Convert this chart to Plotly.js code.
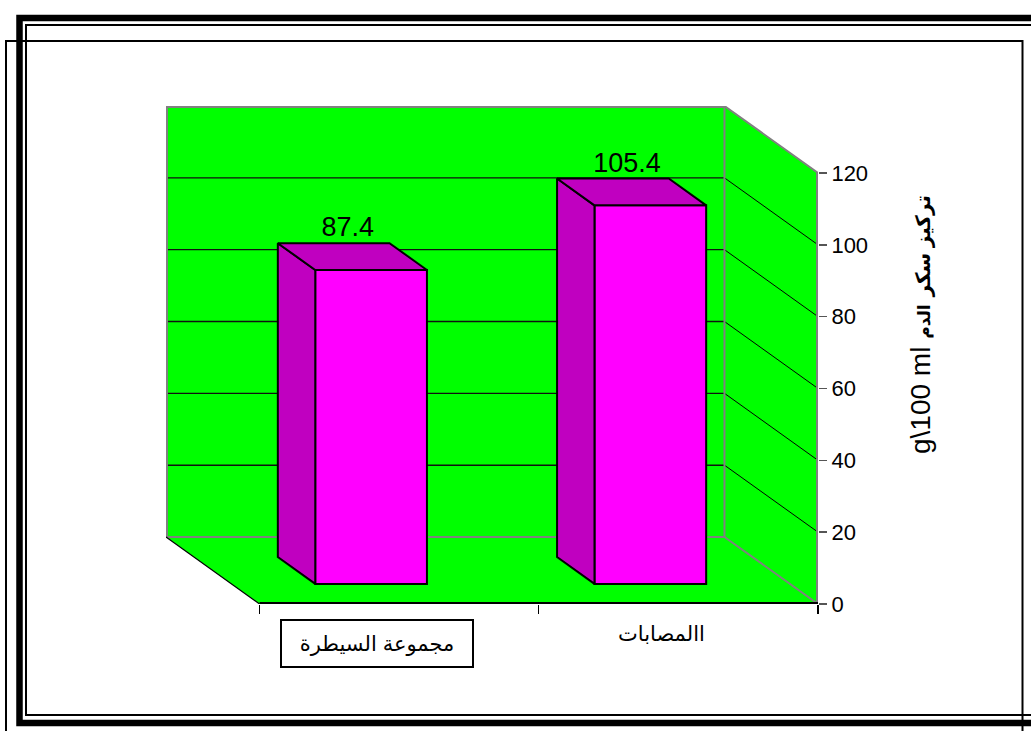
<!DOCTYPE html>
<html>
<head>
<meta charset="utf-8">
<script src="https://cdn.plot.ly/plotly-3.0.1.min.js"></script>
<style>
html, body { margin: 0; padding: 0; background: #ffffff; }
#chart { width: 1031px; height: 731px; }
</style>
</head>
<body>
<div id="chart"></div>
<script>
// ---- data ----
const categories = ['مجموعة السيطرة', 'االمصابات'];
const values = [87.4, 105.4];
const valueLabels = ['87.4', '105.4'];
const yTicks = [0, 20, 40, 60, 80, 100, 120];
const yTitleUnit = 'g\\100 ml';
const yTitleMain = 'تركيز سكر';
const yTitleSmall = 'الدم';

// ---- geometry / style ----
const W = 1031, H = 731;
const M = { l: 166, r: 213, t: 106, b: 127 };
const plotW = W - M.l - M.r, plotH = H - M.t - M.b;
const YMAX = 120;
const DX = -0.335;   // oblique depth shift (x units)
const DY = 18.65;    // oblique depth shift (y units)
const BW = 0.2;      // half bar width
const T0 = 0.3, T1 = 0.7; // bar depth span
const xL = -0.5, xR = categories.length - 0.5;
const FONT = 'Arial, "Liberation Sans", "DejaVu Sans", sans-serif';
const GREEN = '#00FF00', GRAY = '#808080';

const pxX = px => (px - M.l) / plotW;
const pxY = py => (H - M.b - py) / plotH;

function P(pts) { return 'M' + pts.map(p => p[0] + ',' + p[1]).join('L') + 'Z'; }
function poly(pts, color) {
  return { type: 'path', xref: 'x', yref: 'y', path: P(pts), fillcolor: color, line: { width: 0 }, layer: 'below' };
}
function L(x0, y0, x1, y1, color, width) {
  return { type: 'line', xref: 'x', yref: 'y', x0, y0, x1, y1, line: { color, width }, layer: 'below' };
}

const shapes = [];
// walls & floor
shapes.push(poly([[xL + DX, DY], [xR + DX, DY], [xR + DX, YMAX + DY], [xL + DX, YMAX + DY]], GREEN));
shapes.push(poly([[xR + DX, DY], [xR, 0], [xR, YMAX], [xR + DX, YMAX + DY]], GREEN));
shapes.push(poly([[xL + DX, DY], [xR + DX, DY], [xR, 0], [xL, 0]], GREEN));
// gridlines
yTicks.forEach(v => {
  if (v > 0 && v < YMAX) {
    shapes.push(L(xL + DX, v + DY, xR + DX, v + DY, '#111111', 1.4));
    shapes.push(L(xR + DX, v + DY, xR, v, '#000000', 1));
  }
});
// wall borders
shapes.push(L(xL + DX, DY, xL + DX, YMAX + DY, GRAY, 4));
shapes.push(L(xL + DX, YMAX + DY, xR + DX, YMAX + DY, GRAY, 4));
shapes.push(L(xR + DX, DY, xR + DX, YMAX + DY, GRAY, 2));
shapes.push(L(xL + DX, DY, xR + DX, DY, GRAY, 2));
shapes.push(L(xR + DX, YMAX + DY, xR, YMAX, GRAY, 2));
shapes.push(L(xR + DX, DY, xR, 0, GRAY, 2));
shapes.push(L(xR, 0, xR, YMAX, GRAY, 4));
// floor edges
shapes.push(L(xL + DX, DY, xL, 0, '#000000', 1.2));
shapes.push(L(xL, 0, xR, 0, '#000000', 4));

// outer frames (paper)
const frame = (x0, y0, x1, y1, w) => ({ type: 'rect', xref: 'paper', yref: 'paper',
  x0: pxX(x0), x1: pxX(x1), y0: pxY(y1), y1: pxY(y0), line: { color: '#000', width: w }, fillcolor: 'rgba(0,0,0,0)', layer: 'above' });
shapes.push(frame(19.5, 18, 1050, 723, 6.5));
shapes.push(frame(26, 25, 1050, 715, 2));
shapes.push(frame(6, 41, 1022.5, 760, 2));

// ---- traces ----
const traces = [];
traces.push({
  type: 'bar',
  x: categories.map((_, i) => i + T0 * DX),
  y: values,
  base: T0 * DY,
  width: 2 * BW,
  marker: { color: '#FF00FF', line: { color: '#000000', width: 2 } },
  hoverinfo: 'skip', showlegend: false
});
categories.forEach((_, i) => {
  const v = values[i];
  const xl = i - BW, xr = i + BW;
  const side = [[xl + T0 * DX, T0 * DY], [xl + T1 * DX, T1 * DY], [xl + T1 * DX, v + T1 * DY], [xl + T0 * DX, v + T0 * DY], [xl + T0 * DX, T0 * DY]];
  const top = [[xl + T0 * DX, v + T0 * DY], [xr + T0 * DX, v + T0 * DY], [xr + T1 * DX, v + T1 * DY], [xl + T1 * DX, v + T1 * DY], [xl + T0 * DX, v + T0 * DY]];
  [side, top].forEach(pts => traces.push({
    type: 'scatter', mode: 'lines', fill: 'toself', fillcolor: '#C000C0',
    x: pts.map(p => p[0]), y: pts.map(p => p[1]),
    line: { color: '#000000', width: 2 }, hoverinfo: 'skip', showlegend: false
  }));
});
traces.push({
  type: 'scatter', mode: 'text',
  x: categories.map((_, i) => i + 0.55 * DX),
  y: values.map(v => v + T1 * DY),
  text: valueLabels, textposition: 'top center', cliponaxis: false,
  textfont: { family: FONT, size: 27, color: '#000' },
  hoverinfo: 'skip', showlegend: false
});

// ---- annotations ----
const annotations = [];
annotations.push({
  xref: 'x', yref: 'paper', x: 0, y: pxY(643), xshift: -22, showarrow: false,
  text: categories[0], font: { family: FONT, size: 21, color: '#000' },
  bordercolor: '#000', borderwidth: 2, borderpad: 0, width: 190, height: 45,
  xanchor: 'center', yanchor: 'middle', bgcolor: '#fff'
});
annotations.push({
  xref: 'x', yref: 'paper', x: 1, y: pxY(633), xshift: -17, showarrow: false,
  text: categories[1], font: { family: FONT, size: 21, color: '#000' },
  xanchor: 'center', yanchor: 'middle'
});
annotations.push({
  xref: 'paper', yref: 'paper', x: pxX(920), y: pxY(325), showarrow: false, textangle: -90,
  text: yTitleUnit + ' <b><span style="font-size:20px">' + yTitleMain + '</span> <span style="font-size:17px">' + yTitleSmall + '</span></b>',
  font: { family: FONT, size: 28, color: '#000' }, xanchor: 'center', yanchor: 'middle'
});

const layout = {
  width: W, height: H, margin: M,
  paper_bgcolor: '#ffffff', plot_bgcolor: '#ffffff',
  showlegend: false,
  font: { family: FONT, color: '#000' },
  xaxis: {
    type: 'linear', range: [xL + DX, xR], fixedrange: true,
    showgrid: false, zeroline: false, showline: false,
    tickvals: categories.map((_, i) => i - 0.5).concat([xR]),
    ticktext: categories.map(() => '').concat(['']),
    ticks: 'outside', ticklen: 9, tickwidth: 1.3, tickcolor: '#000', showticklabels: false
  },
  yaxis: {
    range: [0, YMAX + DY], side: 'right', fixedrange: true,
    showgrid: false, zeroline: false, showline: false,
    tickvals: yTicks, ticktext: yTicks.map(String),
    ticks: 'outside', ticklen: 8, tickwidth: 1.5, tickcolor: '#555',
    tickfont: { family: FONT, size: 22, color: '#000' }
  },
  shapes, annotations
};

Plotly.newPlot('chart', traces, layout, { displayModeBar: false, staticPlot: true });
</script>
</body>
</html>
